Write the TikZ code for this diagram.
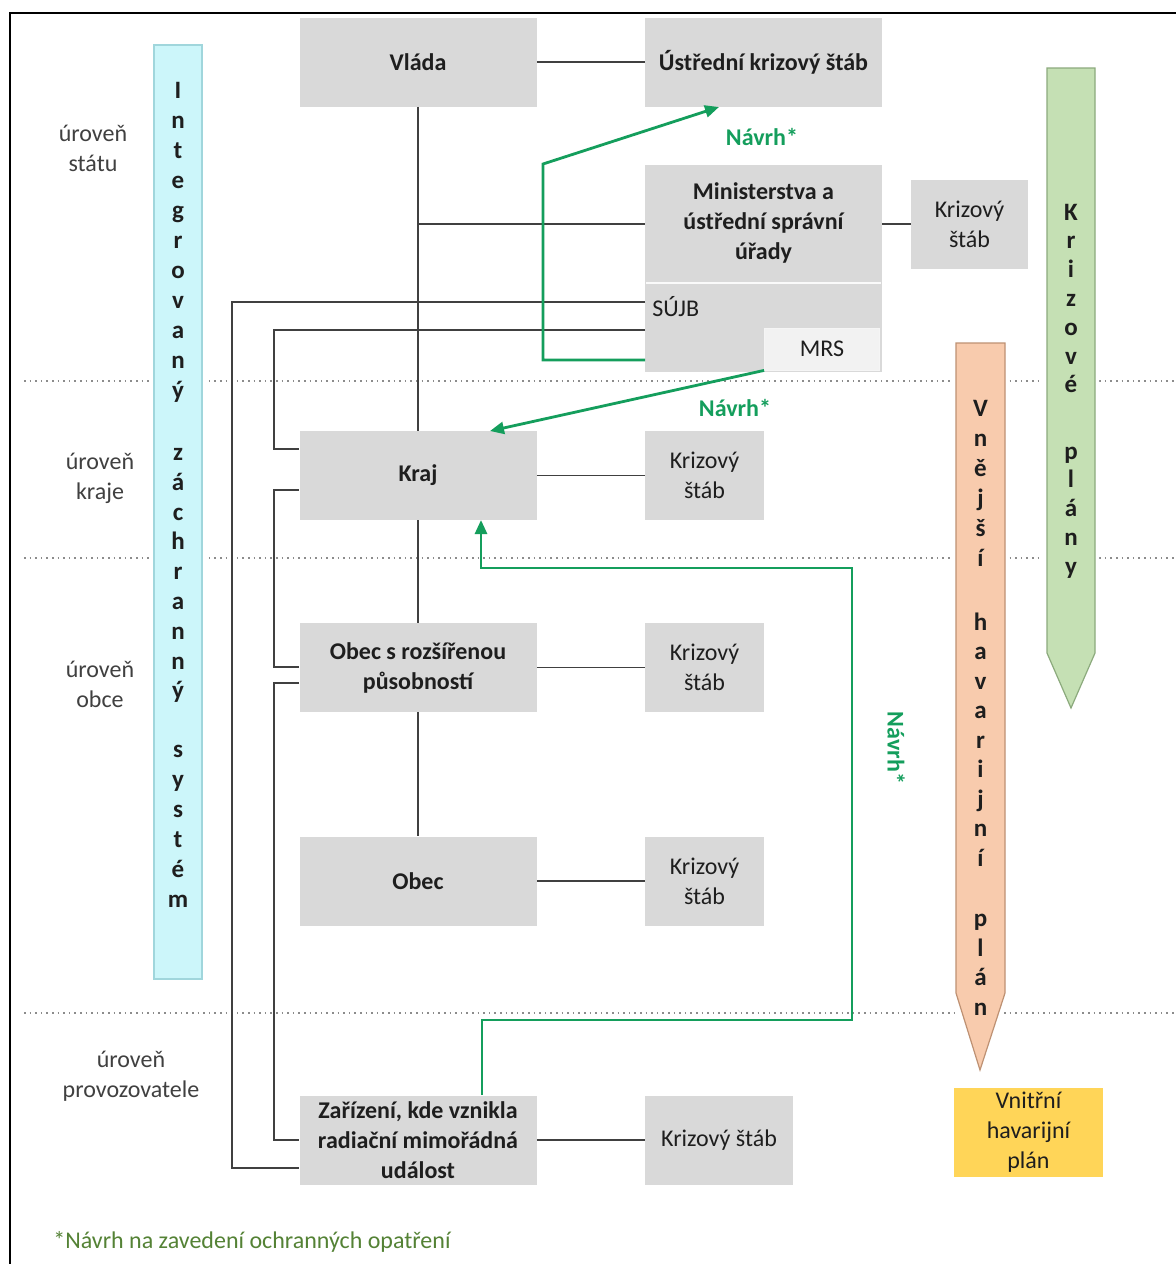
\documentclass[tikz,border=0pt]{standalone}
\usepackage{fontspec}
\setmainfont{Carlito}
\usetikzlibrary{arrows.meta,calc}
\definecolor{boxgray}{RGB}{217,217,217}
\definecolor{mrsfill}{RGB}{242,242,242}
\definecolor{txt}{RGB}{30,30,30}
\definecolor{lin}{RGB}{64,64,64}
\definecolor{grn}{RGB}{20,158,92}
\definecolor{cyanbar}{RGB}{204,246,250}
\definecolor{cyanedge}{RGB}{160,214,220}
\definecolor{greenbar}{RGB}{197,224,180}
\definecolor{greenedge}{RGB}{140,170,125}
\definecolor{orangebar}{RGB}{248,203,173}
\definecolor{orangeedge}{RGB}{190,145,115}
\definecolor{yellowbox}{RGB}{255,213,88}
\definecolor{foot}{RGB}{84,130,53}
\definecolor{dotc}{RGB}{140,140,140}
\begin{document}
\begin{tikzpicture}[x=0.5pt,y=-0.5pt,
  every node/.style={font=\fontsize{12}{15}\selectfont, text=txt},
  box/.style={fill=boxgray, inner sep=2pt, align=center},
  mainbox/.style={box, font=\bfseries\fontsize{12}{15}\selectfont, minimum width=118.5pt, minimum height=44.5pt},
  ksbox/.style={box, minimum width=59.5pt, minimum height=44.5pt},
  lvl/.style={align=center, text=lin},
  vl/.style={font=\bfseries\fontsize{12.5}{15}\selectfont, anchor=base, inner sep=0pt},
  line/.style={draw=lin, line width=0.7pt},
  garrow/.style={draw=grn, line width=1.4pt, -{Triangle[length=7pt,width=6pt]}},
  navrh/.style={font=\bfseries\fontsize{12}{15}\selectfont, text=grn},
  dotline/.style={draw=dotc, line width=0.8pt, dotted},
  bar/.style={line width=0.6pt, preaction={draw=white, line width=4pt}}
]
\useasboundingbox (0,0) rectangle (1176,1264);
\fill[white] (0,0) rectangle (1176,1264);
% frame
\draw[black, line width=1pt] (1176,13) -- (10,13) -- (10,1264);

% level separators
\draw[dotline] (24,381) -- (1176,381);
\draw[dotline] (24,558) -- (1176,558);
\draw[dotline] (24,1013) -- (1176,1013);

% level labels
\node[lvl] (lvlstat) at (93,148) {úroveň\\státu};
\node[lvl] (lvlkraj) at (100,478) {úroveň\\kraje};
\node[lvl] (lvlobec) at (100,684) {úroveň\\obce};
\node[lvl] (lvlprov) at (131,1076) {úroveň\\provozovatele};

% vertical bars
\filldraw[bar, fill=cyanbar, draw=cyanedge] (154,45) rectangle (202,979);
\filldraw[bar, fill=greenbar, draw=greenedge] (1047,68) -- (1095,68) -- (1095,653) -- (1071,708) -- (1047,653) -- cycle;
\filldraw[bar, fill=orangebar, draw=orangeedge] (956,343) -- (1005,343) -- (1005,993) -- (980,1070) -- (956,993) -- cycle;

% bar letters: Integrovaný záchranný systém
\foreach \c [count=\i from 0] in {I,n,t,e,g,r,o,v,a,n,ý}
  \node[vl] (izsa\i) at (178,98.5+30*\i) {\c};
\foreach \c [count=\i from 0] in {z,á,c,h,r,a,n,n,ý}
  \node[vl] (izsb\i) at (178,460.5+29.8*\i) {\c};
\foreach \c [count=\i from 0] in {s,y,s,t,é,m}
  \node[vl] (izsc\i) at (178,757.5+30*\i) {\c};
% Krizové plány
\foreach \c [count=\i from 0] in {K,r,i,z,o,v,é}
  \node[vl] (kpa\i) at (1071,220+28.8*\i) {\c};
\foreach \c [count=\i from 0] in {p,l,á,n,y}
  \node[vl] (kpb\i) at (1071,459+28.8*\i) {\c};
% Vnější havarijní plán
\foreach \c [count=\i from 0] in {V,n,ě,j,š,í}
  \node[vl] (vhpa\i) at (980.5,416+30*\i) {\c};
\foreach \c [count=\i from 0] in {h,a,v,a,r,i,j,n,í}
  \node[vl] (vhpb\i) at (980.5,630+29.5*\i) {\c};
\foreach \c [count=\i from 0] in {p,l,á,n}
  \node[vl] (vhpc\i) at (980.5,926.5+29.5*\i) {\c};

% boxes
\node[mainbox] (vlada) at (418,62) {Vláda};
\node[mainbox] (ustr) at (763.5,62) {Ústřední krizový štáb};
\node[box, minimum width=118.5pt, minimum height=103.5pt] (min) at (763.5,268.5) {};
\draw[white!88!boxgray, line width=0.8pt] (646,283) -- (881,283);
\node[font=\bfseries\fontsize{12}{15}\selectfont, align=center] (mintxt) at (763.5,223) {Ministerstva a\\ústřední správní\\úřady};
\node[anchor=west, inner sep=0pt] (sujb) at (652,307) {SÚJB};
\node[fill=mrsfill, draw=white!92!gray, line width=0.4pt, minimum width=57.5pt, minimum height=21pt, inner sep=0pt] (mrs) at (822,349) {MRS};
\node[ksbox, minimum width=58.5pt] (ksmin) at (969.5,224) {Krizový\\štáb};

\node[mainbox] (kraj) at (418,475.5) {Kraj};
\node[ksbox] (kskraj) at (704.5,475.5) {Krizový\\štáb};
\node[mainbox] (orp) at (418,667.5) {Obec s rozšířenou\\působností};
\node[ksbox] (ksorp) at (704.5,667.5) {Krizový\\štáb};
\node[mainbox] (obec) at (418,881) {Obec};
\node[ksbox] (ksobec) at (704.5,881) {Krizový\\štáb};
\node[mainbox] (zar) at (418,1140) {Zařízení, kde vznikla\\radiační mimořádná\\událost};
\node[ksbox, minimum width=74pt] (kszar) at (719,1140) {Krizový štáb};

\node[box, fill=yellowbox, minimum width=74.5pt, minimum height=44.5pt] (vnitrni) at (1028.5,1132.5) {Vnitřní\\havarijní\\plán};

% ports
\coordinate (pS) at (645,302);
\coordinate (pM) at (645,330);
\coordinate (pG) at (645,360);
\coordinate (krajL1) at (299,449);
\coordinate (krajL2) at (299,490);
\coordinate (orpL1) at (299,667);
\coordinate (orpL2) at (299,683);
\coordinate (zarL1) at (299,1140);
\coordinate (zarL2) at (299,1168);
\coordinate (ustrIn) at (719,107);
\coordinate (krajIn1) at (490,431);
\coordinate (krajIn2) at (481,520);
\coordinate (zarTop) at (482,1095);

% black connectors
\draw[line] (vlada) -- (ustr);
\draw[line] (vlada.south) -- (kraj.north);
\draw[line] (vlada.south |- ksmin.west) -- (min.west |- ksmin.west);
\draw[line] (min.east |- ksmin.west) -- (ksmin.west);
\draw[line] (pS) -- ++(-413,0) |- (zarL2);
\draw[line] (pM) -- ++(-371,0) |- (krajL1);
\draw[line] (krajL2) -- ++(-25,0) |- (orpL1);
\draw[line] (orpL2) -- ++(-25,0) |- (zarL1);
\draw[line] (kraj) -- (kskraj);
\draw[line] (kraj.south) -- (orp.north);
\draw[line] (orp) -- (ksorp);
\draw[line] (orp.south) -- (obec.north);
\draw[line] (obec) -- (ksobec);
\draw[line] (zar) -- (kszar);

% green proposals
\draw[garrow] (pG) -| (543,164) -- (ustrIn);
\draw[garrow] (mrs.south west) -- (krajIn1);
\draw[garrow] (zarTop) -- ++(0,-75) -| (852,568) -| (krajIn2);
\node[navrh] (navrh1) at (762,137) {Návrh*};
\node[navrh] (navrh2) at (735,408) {Návrh*};
\node[navrh, rotate=-90] (navrh3) at (896,748) {Návrh*};

% footnote
\node[anchor=west, text=foot, inner sep=0pt] (footnote) at (53,1242) {*Návrh na zavedení ochranných opatření};
\end{tikzpicture}
\end{document}
